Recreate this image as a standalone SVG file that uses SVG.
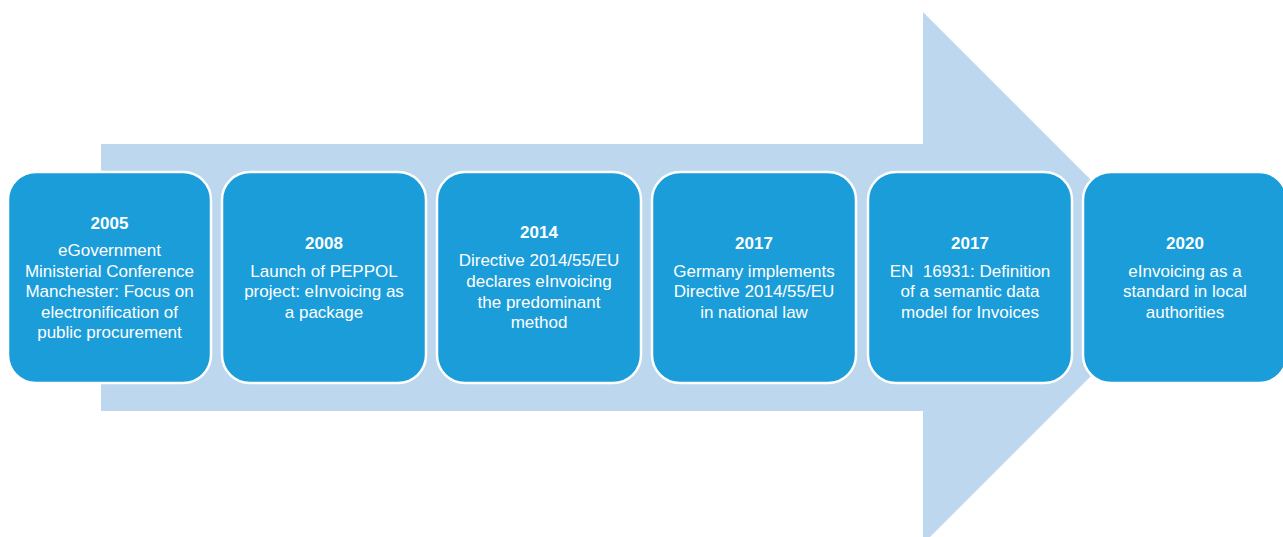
<svg xmlns="http://www.w3.org/2000/svg" width="1283" height="537" viewBox="0 0 1283 537">
<style>
.box{fill:#1a9dd9;stroke:#ffffff;stroke-width:2.5}
.t{font-family:"Liberation Sans",Arial,sans-serif;font-size:17px;fill:#ffffff;text-anchor:middle}
.y{font-weight:bold}
</style>
<rect width="1283" height="537" fill="#ffffff"/>
<g id="arrow">
<polygon points="101,144 923,144 923,12 1189,278 923,544 923,411 101,411" fill="#bdd7ee"/>
</g>
<g id="connectors"></g>
<g id="n2005">
<rect class="box" x="8" y="172" width="203" height="211" rx="28"/>
<text class="t y" x="109.5" y="229">2005</text>
<text class="t" x="109.5" y="256">eGovernment</text>
<text class="t" x="109.5" y="277">Ministerial Conference</text>
<text class="t" x="109.5" y="297">Manchester: Focus on</text>
<text class="t" x="109.5" y="318">electronification of</text>
<text class="t" x="109.5" y="338">public procurement</text>
</g>
<g id="n2008">
<rect class="box" x="222" y="172" width="204" height="211" rx="28"/>
<text class="t y" x="324" y="249">2008</text>
<text class="t" x="324" y="277">Launch of PEPPOL</text>
<text class="t" x="324" y="297">project: eInvoicing as</text>
<text class="t" x="324" y="318">a package</text>
</g>
<g id="n2014">
<rect class="box" x="437" y="172" width="204" height="211" rx="28"/>
<text class="t y" x="539" y="238">2014</text>
<text class="t" x="539" y="266">Directive 2014/55/EU</text>
<text class="t" x="539" y="287">declares eInvoicing</text>
<text class="t" x="539" y="308">the predominant</text>
<text class="t" x="539" y="328">method</text>
</g>
<g id="n2017a">
<rect class="box" x="652" y="172" width="204" height="211" rx="28"/>
<text class="t y" x="754" y="249">2017</text>
<text class="t" x="754" y="277">Germany implements</text>
<text class="t" x="754" y="297">Directive 2014/55/EU</text>
<text class="t" x="754" y="318">in national law</text>
</g>
<g id="n2017b">
<rect class="box" x="868" y="172" width="204" height="211" rx="28"/>
<text class="t y" x="970" y="249">2017</text>
<text class="t" x="970" y="277" xml:space="preserve">EN  16931: Definition</text>
<text class="t" x="970" y="297">of a semantic data</text>
<text class="t" x="970" y="318">model for Invoices</text>
</g>
<g id="n2020">
<rect class="box" x="1083" y="172" width="204" height="211" rx="28"/>
<text class="t y" x="1185" y="249">2020</text>
<text class="t" x="1185" y="277">eInvoicing as a</text>
<text class="t" x="1185" y="297">standard in local</text>
<text class="t" x="1185" y="318">authorities</text>
</g>
</svg>
